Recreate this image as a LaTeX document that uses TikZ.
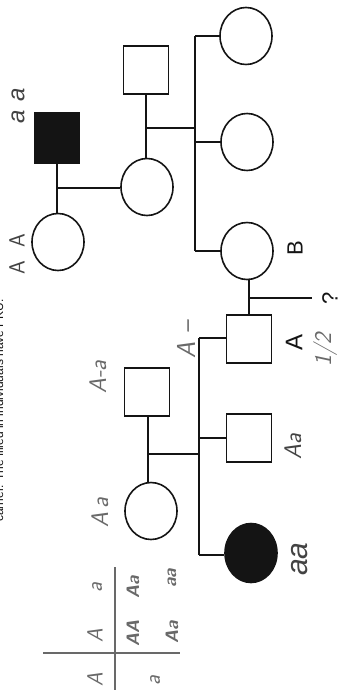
\documentclass[tikz,border=0pt]{standalone}
\usepackage{fontspec}
\setmainfont{Liberation Sans}
\usetikzlibrary{shapes.geometric}
\definecolor{pencil}{RGB}{105,105,105}
\definecolor{ink}{RGB}{20,20,20}
\tikzset{
  female/.style={ellipse, draw=ink, line width=1.6pt, minimum width=52pt, minimum height=57pt, inner sep=0pt},
  male/.style={rectangle, draw=ink, line width=1.6pt, minimum width=45pt, minimum height=48pt, inner sep=0pt},
  affected/.style={fill=ink},
  link/.style={draw=ink, line width=2.4pt},
  printed/.style={rotate=90, text=ink, inner sep=0pt},
  hand/.style={rotate=90, text=pencil, inner sep=0pt, font=\sffamily\itshape},
  handdark/.style={rotate=90, text=ink!80, inner sep=0pt, font=\sffamily\itshape},
  grid/.style={draw=pencil, line width=1.3pt}
}
\begin{document}
\begin{tikzpicture}[x=1pt,y=-1pt]
\useasboundingbox (0,0) rectangle (349,698);
% cut-off caption at the left edge
\node[printed, anchor=base west, font=\fontsize{12}{12}\selectfont] (cap) at (3,522) {carrier. The filled in individuals have PKU.};
% family 1
\node[male, affected, minimum width=44pt, minimum height=50pt] (gf) at (57,138) {};
\node[female] (gm) at (58,242) {};
\node[female] (mo1) at (147,187) {};
\node[male] (fa1) at (146,70) {};
\node[female] (d1) at (246,36) {};
\node[female] (d2) at (247,142) {};
\node[female] (b) at (247,251) {};
% family 2
\node[male] (fa2) at (147,392) {};
\node[female] (mo2) at (151,511) {};
\node[male] (sa) at (249,339) {};
\node[male] (s2) at (249,438) {};
\node[female, affected, minimum width=52pt, minimum height=59pt] (s3) at (251,553) {};
% coordinates
\coordinate (m1) at (57,188);
\coordinate (m2) at (146,128);
\coordinate (sib1) at (195,128);
\coordinate (m3) at (249,298);
\coordinate (q) at (312,298);
\coordinate (m4) at (148,454);
\coordinate (sib2) at (199,454);
\coordinate (sib2top) at (199,338);
\coordinate (sib2bot) at (199,555);
% connectors family 1
\draw[link] (gf.south) -- (gf.south |- gm.north);
\draw[link] (m1) -- (m1 -| mo1.west);
\draw[link] (fa1.south) -- (fa1.south |- mo1.north);
\draw[link] (m2) -- (sib1);
\draw[link] (sib1 |- d1.west) -- (sib1 |- b.west);
\draw[link] (sib1 |- d1.west) -- (d1.west);
\draw[link] (sib1 |- d2.west) -- (d2.west);
\draw[link] (sib1 |- b.west) -- (b.west);
\draw[link] (sa.north) -- (sa.north |- b.south);
\draw[link] (m3) -- (q);
% connectors family 2
\draw[link] (fa2.south -| m4) -- (m4 |- mo2.north);
\draw[link] (m4) -- (sib2);
\draw[link] (sib2top) -- (sib2bot);
\draw[link] (sib2top) -- (sib2top -| sa.west);
\draw[link] (sib2 |- s2.west) -- (s2.west);
\draw[link] (sib2bot) -- (sib2bot -| s3.west);
% printed labels
\node[handdark, font=\itshape\fontsize{24}{24}\selectfont] (laa) at (18,106) {a\hspace{9pt}a};
\node[handdark, font=\sffamily\fontsize{22}{22}\selectfont] (lAA) at (17,254) {A\hspace{14pt}A};
\node[printed, font=\fontsize{22}{22}\selectfont] (lB) at (295,248) {B};
\node[printed, font=\fontsize{24}{24}\selectfont] (lA) at (294,342) {A};
\node[printed, font=\fontsize{22}{22}\selectfont] (lq) at (330,298) {?};
% handwritten genotypes
\node[hand, font=\sffamily\itshape\fontsize{24}{24}\selectfont] (lfa2) at (98,377) {A-a};
\node[hand, font=\sffamily\itshape\fontsize{24}{24}\selectfont] (lmo2) at (100,513) {A\,a};
\node[hand, font=\sffamily\itshape\fontsize{26}{26}\selectfont] (lsa) at (186,340) {A\,\,--};
\node[hand, font=\sffamily\itshape\fontsize{24}{24}\selectfont] (lhalf) at (325,350) {1/2};
\node[handdark, font=\sffamily\itshape\fontsize{24}{24}\selectfont] (ls2) at (293,447) {Aa};
\node[handdark, font=\itshape\fontsize{30}{30}\selectfont] (ls3) at (300,559) {aa};
% Punnett square
\coordinate (pl) at (43,653);
\coordinate (pr) at (180,653);
\coordinate (pt) at (115,567);
\coordinate (pb) at (115,690);
\draw[grid] (pl) -- (pr);
\draw[grid] (pt) -- (pb);
\node[hand, font=\sffamily\itshape\fontsize{22}{22}\selectfont] (h1) at (95,636) {A};
\node[hand, font=\sffamily\itshape\fontsize{22}{22}\selectfont] (h2) at (97,588) {a};
\node[hand, font=\sffamily\itshape\fontsize{22}{22}\selectfont] (v1) at (95,680) {A};
\node[hand, font=\sffamily\itshape\fontsize{22}{22}\selectfont] (v2) at (155,681) {a};
\node[hand, font=\sffamily\itshape\bfseries\fontsize{18}{18}\selectfont] (c11) at (133,633) {AA};
\node[hand, font=\sffamily\itshape\bfseries\fontsize{18}{18}\selectfont] (c12) at (133,587) {Aa};
\node[hand, font=\sffamily\itshape\bfseries\fontsize{18}{18}\selectfont] (c21) at (172,632) {Aa};
\node[hand, font=\sffamily\itshape\bfseries\fontsize{18}{18}\selectfont] (c22) at (172,578) {aa};
\end{tikzpicture}
\end{document}
